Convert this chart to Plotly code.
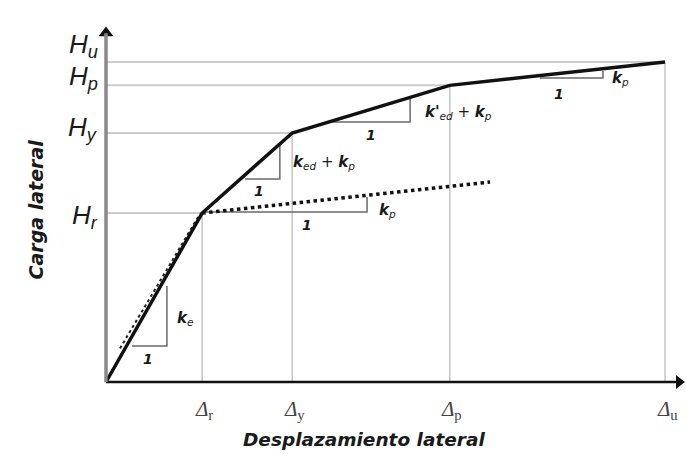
import plotly.graph_objects as go

# Characteristic displacements (x) and lateral loads (y) of the envelope
disp_labels = ["r", "y", "p", "u"]
disp_values = [1.72, 3.33, 6.15, 10.0]
load_labels = ["r", "y", "p", "u"]
load_values = [5.28, 7.78, 9.27, 10.0]

# Backbone curve: origin plus the four characteristic points
curve_x = [0.0] + disp_values
curve_y = [0.0] + load_values

# Initial elastic stiffness reference line (dotted)
elastic_x = [0.25, 1.68]
elastic_y = [1.05, 5.25]

# Post-cracking branch with stiffness k_p only (dotted)
kp_line_x = [disp_values[0], 6.87]
kp_line_y = [load_values[0], 6.25]

# Slope triangles: (x_left, x_right, y_base, y_top)
slope_triangles = [
    (0.465, 1.09, 1.125, 3.00),
    (2.49, 3.11, 6.34, 7.41),
    (4.01, 5.44, 8.125, 8.875),
    (1.77, 4.67, 5.31, 5.78),
    (7.76, 8.89, 9.50, 9.72),
]
# Stiffness labels and the "1" run labels next to each triangle
stiff_labels = [
    ("<i><b>k</b><sub>e</sub></i>", 1.41, 2.0),
    ("<i><b>k</b><sub>ed</sub> + <b>k</b><sub>p</sub></i>", 3.90, 6.875),
    ("<i><b>k'</b><sub>ed</sub> + <b>k</b><sub>p</sub></i>", 6.30, 8.41),
    ("<i><b>k</b><sub>p</sub></i>", 5.03, 5.375),
    ("<i><b>k</b><sub>p</sub></i>", 9.21, 9.47),
]
run_labels = [(0.75, 0.72), (2.74, 5.97), (4.74, 7.72), (3.60, 4.91), (8.10, 9.0)]

# Axis scaling (pixels per unit) so the whole canvas is the plotting area
PX_X = 55.9
PX_Y = 32.0
X_MIN, X_MAX = -106 / PX_X, 580 / PX_X
Y_MIN, Y_MAX = -75 / PX_Y, 382 / PX_Y
SANS = "Liberation Sans, Arial, sans-serif"
WIDE = "DejaVu Sans, Verdana, sans-serif"
SERIF = "Liberation Serif, Times New Roman, serif"

fig = go.Figure()

# Reference lines from the axes to each characteristic point
shapes = []
for dx, hy in zip(disp_values, load_values):
    shapes.append(dict(type="line", x0=0, x1=dx, y0=hy, y1=hy, layer="below",
                       line=dict(color="#cccccc", width=2)))
    shapes.append(dict(type="line", x0=dx, x1=dx, y0=0, y1=hy, layer="below",
                       line=dict(color="#c4c4c4", width=1.5)))

# Slope triangles
for xl, xr, yb, yt in slope_triangles:
    shapes.append(dict(type="path", path=f"M {xl},{yb} L {xr},{yb} L {xr},{yt}",
                       layer="below", line=dict(color="#6a6a6a", width=1.5)))

# Axes
shapes.append(dict(type="line", x0=0, x1=10.25, y0=0, y1=0,
                   line=dict(color="#111111", width=2.5)))
shapes.append(dict(type="line", x0=0, x1=0, y0=0, y1=10.9,
                   line=dict(color="#8a8a8a", width=3.5)))

fig.add_trace(go.Scatter(x=elastic_x, y=elastic_y, mode="lines",
                         line=dict(color="#222222", width=2, dash="dot"),
                         hoverinfo="skip", showlegend=False))
fig.add_trace(go.Scatter(x=kp_line_x, y=kp_line_y, mode="lines",
                         line=dict(color="#111111", width=3.5, dash="dot"),
                         hoverinfo="skip", showlegend=False))
fig.add_trace(go.Scatter(x=curve_x, y=curve_y, mode="lines",
                         line=dict(color="#111111", width=3.5),
                         hoverinfo="skip", showlegend=False))

# Arrow heads at the axis ends
fig.add_trace(go.Scatter(x=[0], y=[10.91], mode="markers",
                         marker=dict(symbol="triangle-up", size=13, color="#111111"),
                         hoverinfo="skip", showlegend=False))
fig.add_trace(go.Scatter(x=[10.25], y=[0], mode="markers",
                         marker=dict(symbol="triangle-right", size=12, color="#111111"),
                         hoverinfo="skip", showlegend=False))

annotations = []
# Load level labels on the vertical axis
h_shift = [-3, 5, 8, 17]
for lab, val, sh in zip(load_labels, load_values, h_shift):
    annotations.append(dict(x=-0.11, y=val, xref="x", yref="y", showarrow=False,
                            xanchor="right", yanchor="middle", yshift=sh,
                            text=f"<i>H<sub>{lab}</sub></i>",
                            font=dict(family=SANS, size=26, color="#1a1a1a")))
# Displacement labels below the horizontal axis
for lab, val in zip(disp_labels, disp_values):
    annotations.append(dict(x=val, y=0, xref="x", yref="y", showarrow=False,
                            xanchor="center", yanchor="middle", yshift=-28, xshift=2,
                            text=f"<i>Δ</i><sub>{lab}</sub>",
                            font=dict(family=SERIF, size=21, color="#444444")))
for txt, x, y in stiff_labels:
    annotations.append(dict(x=x, y=y, xref="x", yref="y", showarrow=False,
                            text=txt, font=dict(family=WIDE, size=15, color="#1a1a1a")))
for x, y in run_labels:
    annotations.append(dict(x=x, y=y, xref="x", yref="y", showarrow=False,
                            text="<b><i>1</i></b>",
                            font=dict(family=WIDE, size=14, color="#1a1a1a")))

# Axis titles
annotations.append(dict(x=-1.26, y=5.38, xref="x", yref="y", showarrow=False,
                        textangle=-90, text="<b><i>Carga lateral</i></b>",
                        font=dict(family=WIDE, size=19, color="#1a1a1a")))
annotations.append(dict(x=4.62, y=-1.81, xref="x", yref="y", showarrow=False,
                        text="<b><i>Desplazamiento lateral</i></b>",
                        font=dict(family=WIDE, size=18.5, color="#1a1a1a")))

fig.update_layout(
    width=686, height=457,
    margin=dict(l=0, r=0, t=0, b=0),
    paper_bgcolor="white", plot_bgcolor="white",
    xaxis=dict(range=[X_MIN, X_MAX], visible=False, fixedrange=True),
    yaxis=dict(range=[Y_MIN, Y_MAX], visible=False, fixedrange=True),
    shapes=shapes, annotations=annotations, showlegend=False,
)

fig.write_html("out.html")
